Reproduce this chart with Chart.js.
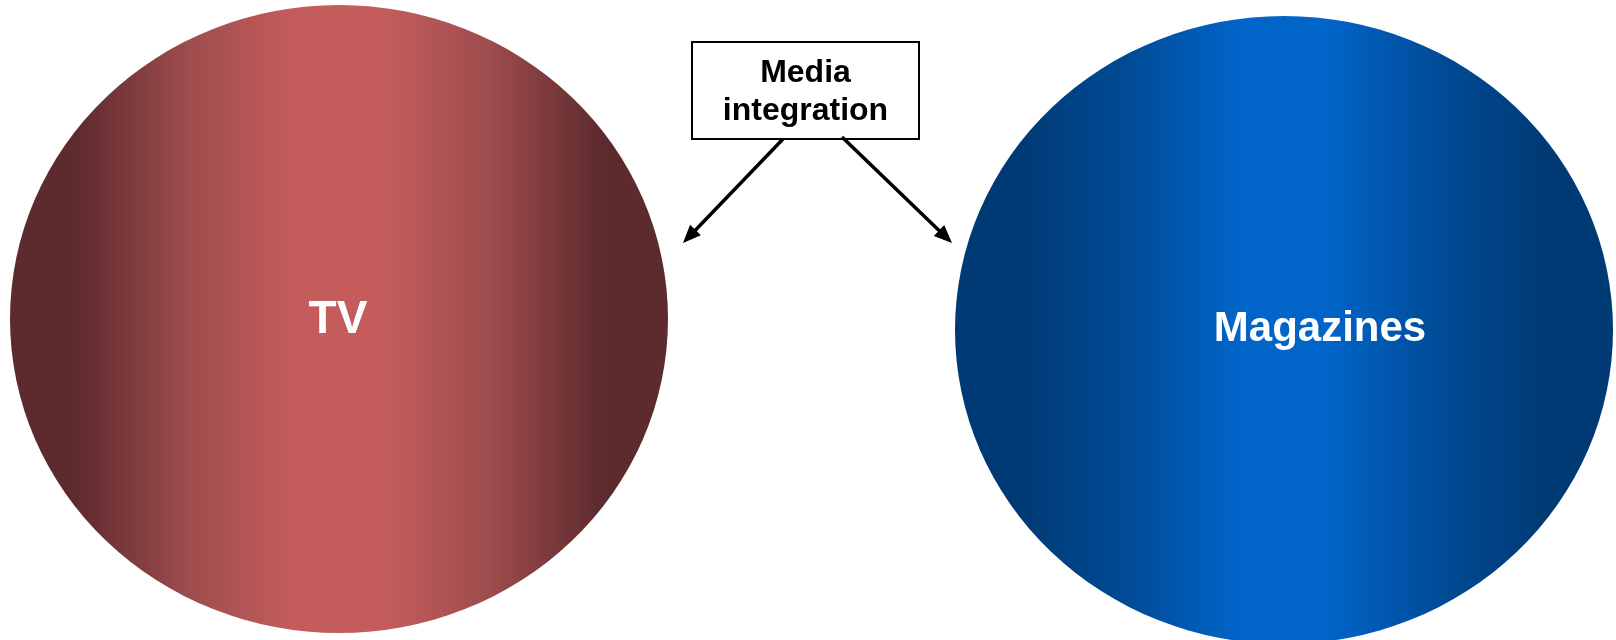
<!DOCTYPE html>
<html>
<head>
<meta charset="utf-8">
<script src="https://cdn.jsdelivr.net/npm/chart.js@4.4.1/dist/chart.umd.min.js"></script>
<style>
html,body{margin:0;padding:0;background:#fff;}
#wrap{width:1616px;height:640px;position:relative;}
</style>
</head>
<body>
<div id="wrap"><canvas id="c" width="1616" height="640"></canvas></div>
<script>
// ---- data ----
const nodeLabels = ['TV', 'Magazines'];
const hubLines = ['Media', 'integration'];
const arrowTargets = ['TV', 'Magazines'];

// ---- layout (pixel-space units of the hidden axes) ----
const nodeCenterX = [339, 1284];
const nodeCenterY = [319, 330];
const nodeRadiusX = [329, 329];
const nodeRadiusY = [314, 314];
const labelX = [338, 1320];
const labelY = [320, 329];
const labelSize = [46, 42];
const nodeDark = ['#5d2a2d', '#003a74'];
const nodeMid = ['#9e4c4d', '#004c98'];
const nodeLight = ['#c45c5c', '#0064c8'];
const hubBox = {x0: 692, y0: 42, x1: 919, y1: 139};
const hubLineY = [73, 111];
const arrowFrom = [[783, 139], [842, 137]];
const arrowTo = [[683, 243], [952, 243]];

const ellipsePlugin = {
  id: 'diagram',
  beforeDatasetsDraw(chart) {
    const ctx = chart.ctx, xs = chart.scales.x, ys = chart.scales.y;
    nodeLabels.forEach((lab, i) => {
      const cx = xs.getPixelForValue(nodeCenterX[i]);
      const cy = ys.getPixelForValue(nodeCenterY[i]);
      const rx = Math.abs(xs.getPixelForValue(nodeCenterX[i] + nodeRadiusX[i]) - cx);
      const ry = Math.abs(ys.getPixelForValue(nodeCenterY[i] + nodeRadiusY[i]) - cy);
      const g = ctx.createLinearGradient(cx - rx, 0, cx + rx, 0);
      g.addColorStop(0, nodeDark[i]);
      g.addColorStop(0.1, nodeDark[i]);
      g.addColorStop(0.27, nodeMid[i]);
      g.addColorStop(0.43, nodeLight[i]);
      g.addColorStop(0.57, nodeLight[i]);
      g.addColorStop(0.73, nodeMid[i]);
      g.addColorStop(0.9, nodeDark[i]);
      g.addColorStop(1, nodeDark[i]);
      ctx.save();
      ctx.beginPath();
      ctx.ellipse(cx, cy, rx, ry, 0, 0, Math.PI * 2);
      ctx.fillStyle = g;
      ctx.fill();
      ctx.fillStyle = '#ffffff';
      ctx.font = 'bold ' + labelSize[i] + 'px "Liberation Sans", Arial, sans-serif';
      ctx.textAlign = 'center';
      ctx.textBaseline = 'middle';
      ctx.fillText(lab, xs.getPixelForValue(labelX[i]), ys.getPixelForValue(labelY[i]));
      ctx.restore();
    });
    // hub box
    const bx0 = xs.getPixelForValue(hubBox.x0), bx1 = xs.getPixelForValue(hubBox.x1);
    const by0 = ys.getPixelForValue(hubBox.y0), by1 = ys.getPixelForValue(hubBox.y1);
    ctx.save();
    ctx.fillStyle = '#ffffff';
    ctx.fillRect(bx0, by0, bx1 - bx0, by1 - by0);
    ctx.strokeStyle = '#000000';
    ctx.lineWidth = 2;
    ctx.strokeRect(bx0, by0, bx1 - bx0, by1 - by0);
    ctx.fillStyle = '#000000';
    ctx.font = 'bold 32px "Liberation Sans", Arial, sans-serif';
    ctx.textAlign = 'center';
    ctx.textBaseline = 'middle';
    hubLines.forEach((t, k) => {
      ctx.fillText(t, (bx0 + bx1) / 2, ys.getPixelForValue(hubLineY[k]));
    });
    ctx.restore();
  },
  afterDatasetsDraw(chart) {
    const ctx = chart.ctx, xs = chart.scales.x, ys = chart.scales.y;
    arrowTargets.forEach((t, i) => {
      const x0 = xs.getPixelForValue(arrowFrom[i][0]), y0 = ys.getPixelForValue(arrowFrom[i][1]);
      const x1 = xs.getPixelForValue(arrowTo[i][0]), y1 = ys.getPixelForValue(arrowTo[i][1]);
      const a = Math.atan2(y1 - y0, x1 - x0);
      const L = 18, W = 7.5;
      ctx.save();
      ctx.fillStyle = '#000';
      ctx.beginPath();
      ctx.moveTo(x1, y1);
      ctx.lineTo(x1 - L * Math.cos(a) + W * Math.sin(a), y1 - L * Math.sin(a) - W * Math.cos(a));
      ctx.lineTo(x1 - L * Math.cos(a) - W * Math.sin(a), y1 - L * Math.sin(a) + W * Math.cos(a));
      ctx.closePath();
      ctx.fill();
      ctx.restore();
    });
  }
};

// arrow shafts as line datasets (end short of the tip so the head covers it)
const shaftSets = arrowTargets.map((t, i) => ({
  label: 'to ' + t,
  type: 'line',
  data: [
    {x: arrowFrom[i][0], y: arrowFrom[i][1]},
    {x: arrowTo[i][0] + (arrowFrom[i][0] - arrowTo[i][0]) * 0.08, y: arrowTo[i][1] + (arrowFrom[i][1] - arrowTo[i][1]) * 0.08}
  ],
  borderColor: '#000',
  borderWidth: 3.5,
  pointRadius: 0,
  fill: false,
  tension: 0
}));

new Chart(document.getElementById('c'), {
  type: 'scatter',
  data: {
    datasets: [
      {label: 'nodes', data: nodeLabels.map((l, i) => ({x: nodeCenterX[i], y: nodeCenterY[i]})), pointRadius: 0},
      ...shaftSets
    ]
  },
  options: {
    responsive: false,
    animation: false,
    events: [],
    layout: {padding: 0},
    plugins: {legend: {display: false}, tooltip: {enabled: false}},
    scales: {
      x: {type: 'linear', min: 0, max: 1616, display: false},
      y: {type: 'linear', min: 0, max: 640, reverse: true, display: false}
    }
  },
  plugins: [ellipsePlugin]
});
</script>
</body>
</html>
